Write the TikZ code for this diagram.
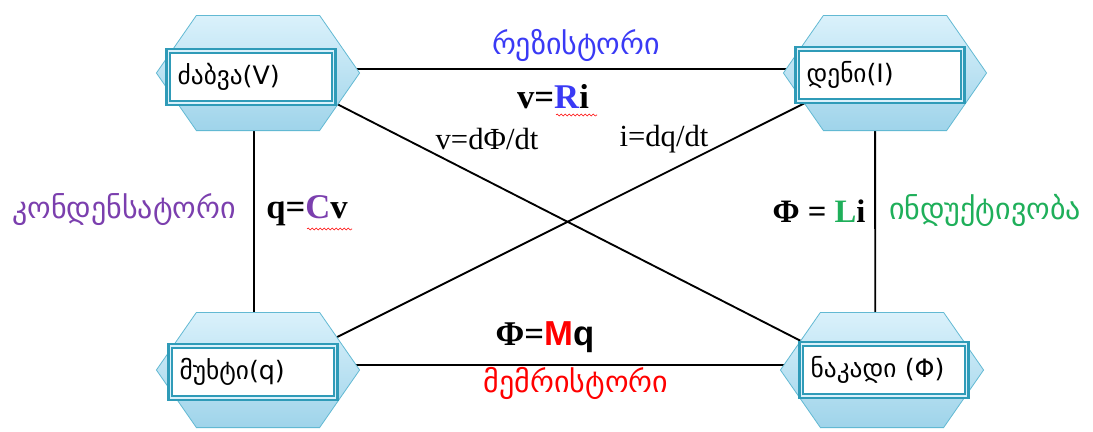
\documentclass[tikz,border=0pt]{standalone}
\usepackage{fontspec}
\setmainfont{Liberation Serif}
\newfontfamily\geo{DejaVu Sans}
\newfontfamily\sansb{Liberation Sans}
\usetikzlibrary{decorations.pathmorphing}

\definecolor{hexborder}{HTML}{62B9D3}
\definecolor{hextop}{HTML}{DAF1FB}
\definecolor{hexbot}{HTML}{9FD4EA}
\definecolor{boxborder}{HTML}{2F9BB8}
\definecolor{resblue}{HTML}{3A3AF5}
\definecolor{capviolet}{HTML}{7B3FAE}
\definecolor{indgreen}{HTML}{1FAF5A}

\tikzset{
  hexa/.style={minimum width=152pt, minimum height=86pt, inner sep=0pt},
  hexfill/.style={draw=hexborder, line width=0.6pt, top color=hextop, bottom color=hexbot},
  qbox/.style={draw=boxborder, line width=1.8pt, double=hextop, double distance=1.1pt,
    fill=white, minimum width=124pt, minimum height=39pt, text width=110pt,
    align=left, inner sep=5pt, font=\geo\fontsize{19}{22}\selectfont},
  link/.style={line width=1.4pt},
  geolabel/.style={font=\geo\fontsize{22.5}{26}\selectfont},
  formula/.style={font=\bfseries\fontsize{26}{30}\selectfont},
  deriv/.style={font=\fontsize{23}{26}\selectfont},
  squiggle/.style={red, line width=0.4pt, decorate,
    decoration={snake, amplitude=0.8pt, segment length=3pt}}
}

\begin{document}
\begin{tikzpicture}[x=0.75pt, y=-0.75pt]
  \useasboundingbox (0,0) rectangle (1093,432);

  % the four quantities
  \node[hexa] (hv) at (258,73){};
  \node[hexa] (hi) at (885,73){};
  \node[hexa] (hq) at (258,370){};
  \node[hexa] (hphi) at (882,370){};

  \draw[link] ([yshift=3pt]hv.center) -- ([yshift=3pt]hi.center);
  \draw[link] ([yshift=3.75pt]hq.center) -- ([yshift=3.75pt]hphi.center);
  \draw[link] ([xshift=-3pt]hv.center) -- ([xshift=-3pt]hq.center);
  \draw[link] ([xshift=-7.5pt]hi.center) -- ([xshift=-5pt]hphi.center);
  \draw[link] ([yshift=7pt]hv.center) -- ([yshift=-9.3pt]hphi.center);
  \draw[link] ([yshift=-5pt]hq.center) -- ([yshift=7.5pt]hi.center);

  \foreach \h in {hv,hi,hq,hphi}
    \path[hexfill] (\h.west) -- ([xshift=30pt]\h.north west) -- ([xshift=-30pt]\h.north east)
      -- (\h.east) -- ([xshift=-30pt]\h.south east) -- ([xshift=30pt]\h.south west) -- cycle;

  \node[qbox] (bv) at (251,77){ძაბვა(V)};
  \node[qbox] (bi) at (880,75){დენი(I)};
  \node[qbox] (bq) at (253,372){მუხტი(q)};
  \node[qbox] (bphi) at (884,370){ნაკადი (Φ)};

  % element names
  \node[geolabel, text=resblue] (res) at (576,45){რეზისტორი};
  \node[geolabel, text=capviolet] (cap) at (124,210){კონდენსატორი};
  \node[geolabel, text=indgreen] (ind) at (985,210){ინდუქტივობა};
  \node[geolabel, text=red] (mem) at (576,383){მემრისტორი};

  % relations
  \node[formula] (vri) at (553,97){v=\textcolor{resblue}{R}i};
  \node[formula] (qcv) at (307,211){q=\textcolor{capviolet}{C}v};
  \node[formula, font=\bfseries\fontsize{24.5}{28}\selectfont] (phili) at (819,211){Φ = \textcolor{indgreen}{L}i};
  \node[formula, font=\bfseries\fontsize{26}{30}\selectfont] (phimq) at (545,337){Φ=\textcolor{red}{\sansb M}\sansb q};
  \node[deriv] (vdt) at (487,139){v=dΦ/dt};
  \node[deriv] (idt) at (664,139){i=dq/dt};

  \draw[squiggle] (556,115) -- (597,115);
  \draw[squiggle] (307,229) -- (352,229);
\end{tikzpicture}
\end{document}
